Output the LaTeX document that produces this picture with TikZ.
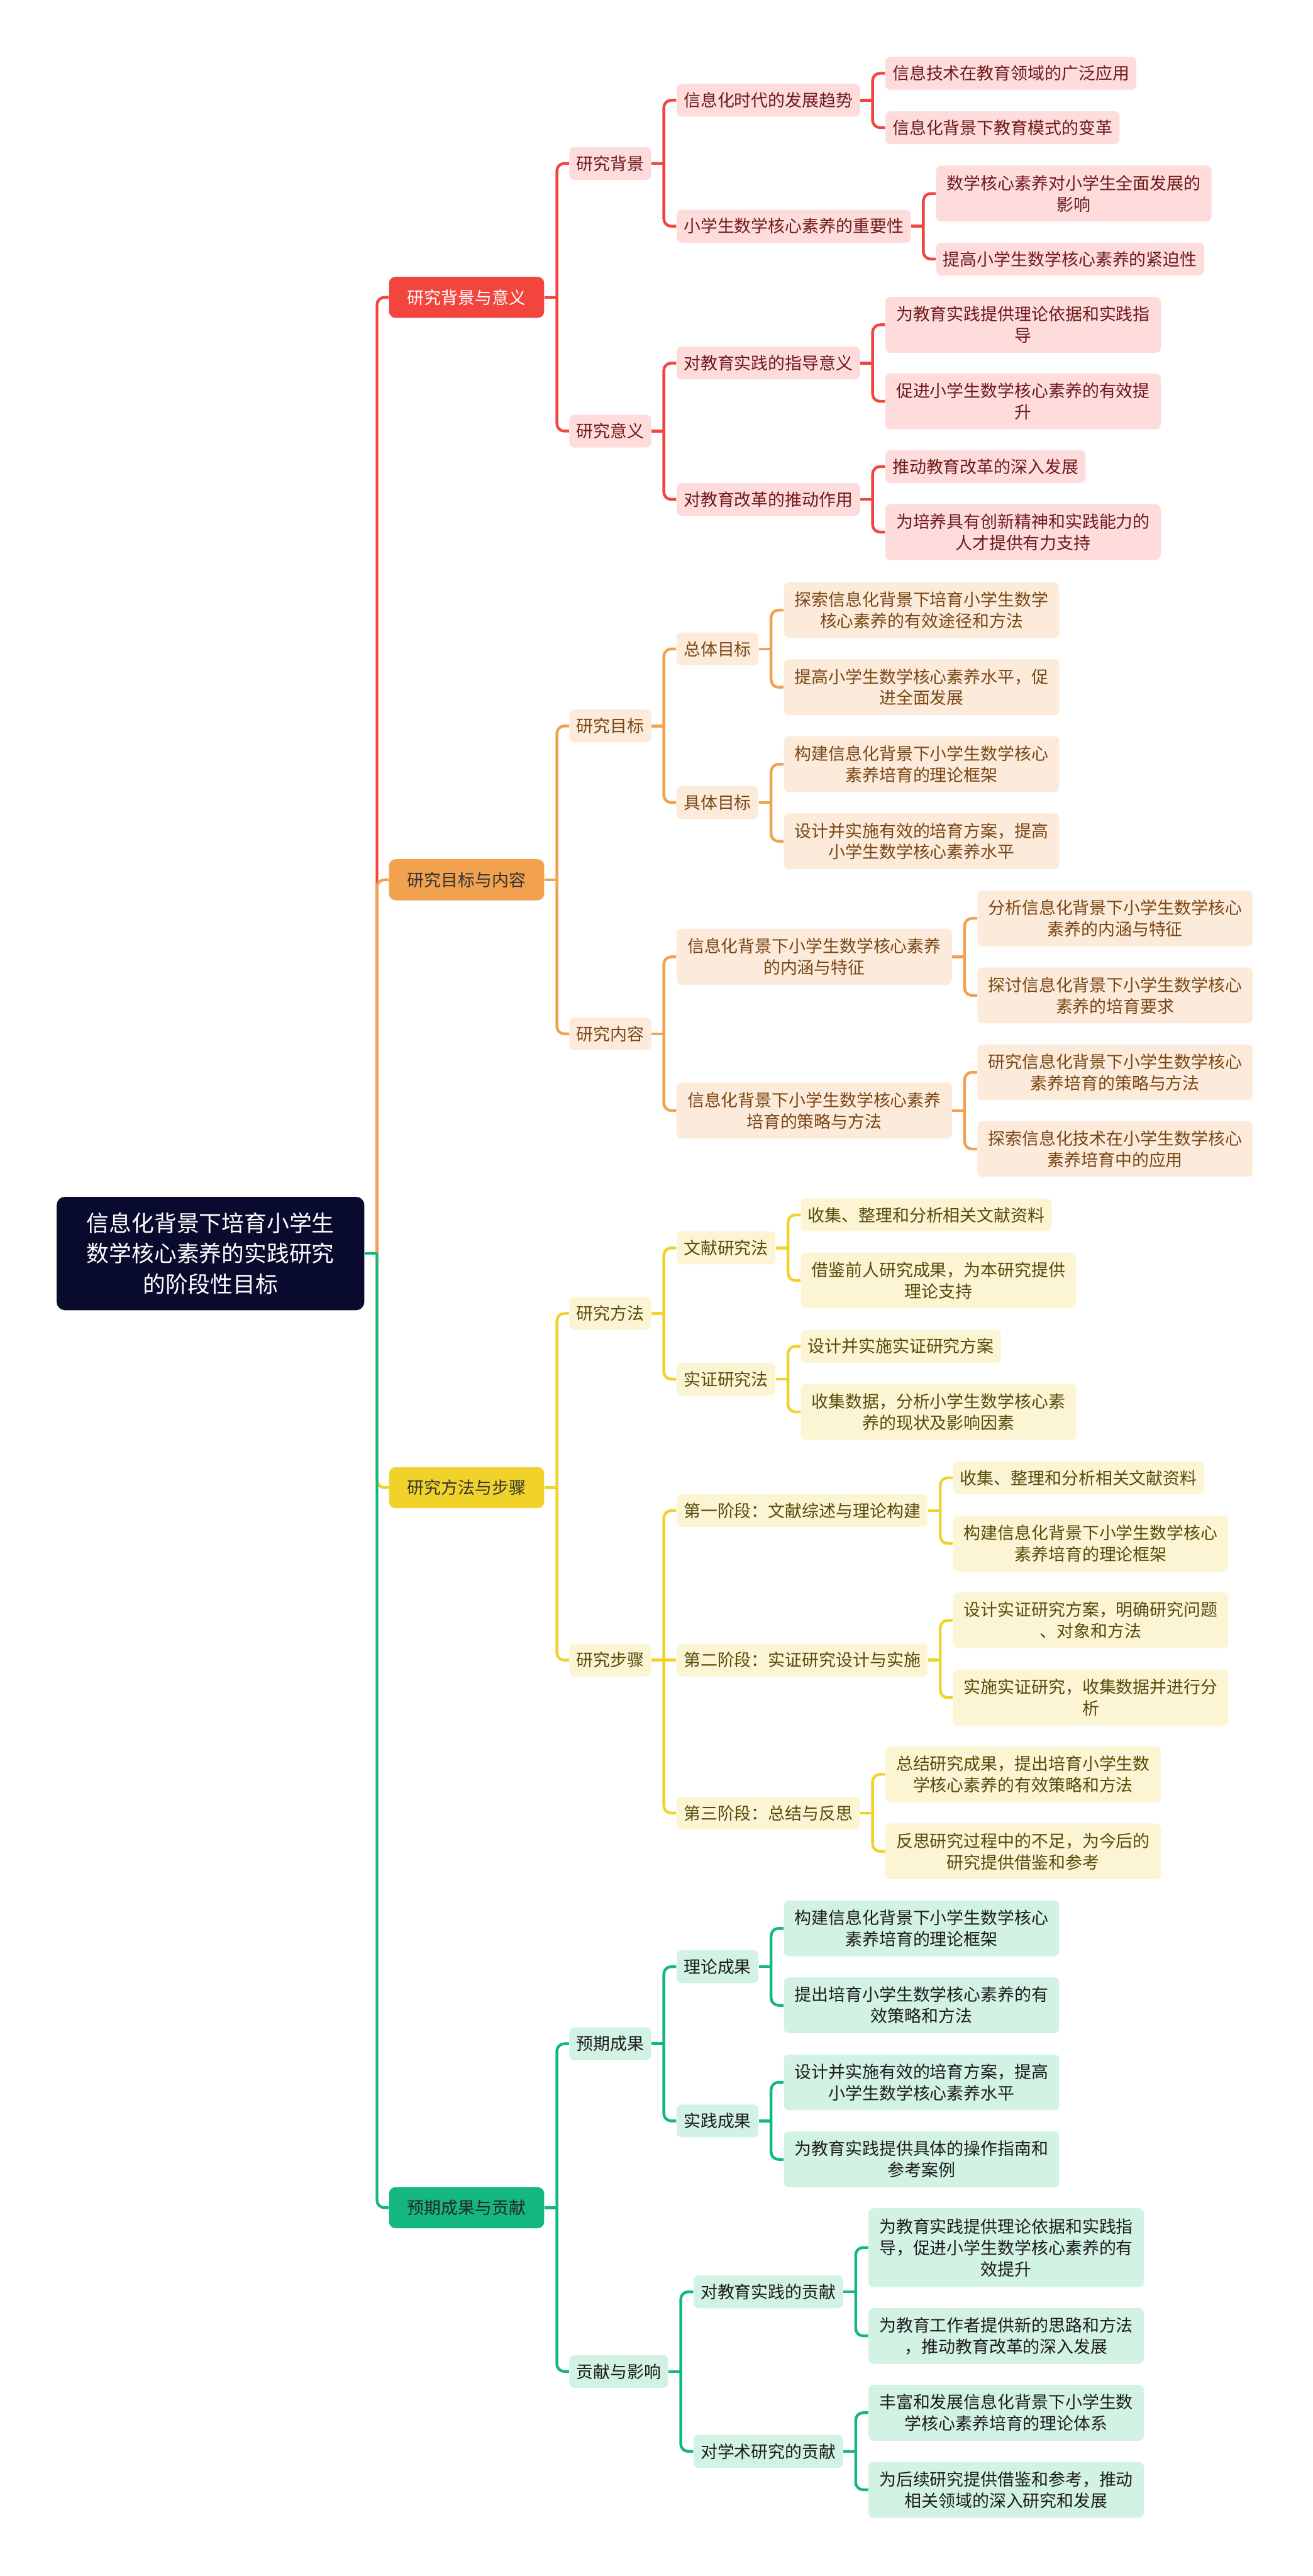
\documentclass[tikz,border=0pt]{standalone}
\usepackage{fontspec}
\setmainfont{Noto Sans CJK SC}
\usepackage{tikz}
\usetikzlibrary{calc,backgrounds}
\definecolor{rootc}{HTML}{090B2E}
\definecolor{redc}{HTML}{F2453D}
\definecolor{redlt}{HTML}{FDDCDB}
\definecolor{redtx}{HTML}{6E1A1A}
\definecolor{orgc}{HTML}{F2A24F}
\definecolor{orglt}{HTML}{FCEBDB}
\definecolor{orgtx}{HTML}{7A4614}
\definecolor{ylwc}{HTML}{F0D22B}
\definecolor{ylwlt}{HTML}{FCF5D4}
\definecolor{ylwtx}{HTML}{574A0A}
\definecolor{grnc}{HTML}{14B77F}
\definecolor{grnlt}{HTML}{D2F2E4}
\definecolor{grntx}{HTML}{1C1C1C}
\tikzset{
  lvsub/.style={rounded corners=3pt, inner xsep=4.3pt, inner ysep=0pt, minimum height=20pt,
    anchor=west, align=center, font=\fontsize{10.3}{13}\selectfont},
  wrap/.style={text width=159pt},
  dbl/.style={wrap, minimum height=34pt},
  tri/.style={wrap, minimum height=48pt},
  lvone/.style={lvsub, rounded corners=4pt, inner xsep=11.2pt, minimum height=25pt},
  rd/.style={lvsub, fill=redlt, text=redtx},
  og/.style={lvsub, fill=orglt, text=orgtx},
  yl/.style={lvsub, fill=ylwlt, text=ylwtx},
  gr/.style={lvsub, fill=grnlt, text=grntx},
  rdln/.style={draw=redc, line width=1.7pt},
  ogln/.style={draw=orgc, line width=1.7pt},
  ylln/.style={draw=ylwc, line width=1.7pt},
  grln/.style={draw=grnc, line width=1.7pt}
}
% parent -> child: short stub, then bar with rounded turn
\newcommand{\edgeto}[3]{%
  \draw[#1] (#2.east) -- ++(7.5,0);
  \draw[#1, rounded corners=4.5pt] ($(#2.east)+(7.5,0)$) |- (#3.west);}

\begin{document}
\begin{tikzpicture}[x=1pt, y=-1pt]
      \useasboundingbox (0,0) rectangle (799,1568);
      \node[fill=rootc, text=white, rounded corners=5pt, inner xsep=18.3pt, minimum height=69pt,
        align=center, anchor=west, font=\fontsize{13.7}{18.7}\selectfont] (r) at (34.3,763)
        {信息化背景下培育小学生\\数学核心素养的实践研究\\的阶段性目标};

      % first level
      \node[lvone, fill=redc, text=white] (a) at (236.6,181) {研究背景与意义};
      \node[lvone, fill=orgc, text=black!80] (b) at (236.6,535.5) {研究目标与内容};
      \node[lvone, fill=ylwc, text=black!80] (c) at (236.6,905.5) {研究方法与步骤};
      \node[lvone, fill=grnc, text=black!85] (d) at (236.6,1343.8) {预期成果与贡献};

      % red branch
      \node[rd] (a1) at (346.4,99.5) {研究背景};
      \node[rd] (a2) at (346.4,262.4) {研究意义};
      \node[rd] (a11) at (411.7,61) {信息化时代的发展趋势};
      \node[rd] (a12) at (411.7,137.7) {小学生数学核心素养的重要性};
      \node[rd] (a21) at (411.7,221) {对教育实践的指导意义};
      \node[rd] (a22) at (411.7,304) {对教育改革的推动作用};
      \node[rd] (a111) at (538.8,44.6) {信息技术在教育领域的广泛应用};
      \node[rd] (a112) at (538.8,77.7) {信息化背景下教育模式的变革};
      \node[rd, dbl] (a121) at (569.7,117.8) {数学核心素养对小学生全面发展的\\影响};
      \node[rd] (a122) at (569.7,157.7) {提高小学生数学核心素养的紧迫性};
      \node[rd, dbl] (a211) at (538.8,197.7) {为教育实践提供理论依据和实践指\\导};
      \node[rd, dbl] (a212) at (538.8,244.3) {促进小学生数学核心素养的有效提\\升};
      \node[rd] (a221) at (538.8,284) {推动教育改革的深入发展};
      \node[rd, dbl] (a222) at (538.8,323.9) {为培养具有创新精神和实践能力的\\人才提供有力支持};

      % orange branch
      \node[og] (b1) at (346.4,441.9) {研究目标};
      \node[og] (b2) at (346.4,629.3) {研究内容};
      \node[og] (b11) at (411.7,395) {总体目标};
      \node[og] (b12) at (411.7,488.5) {具体目标};
      \node[og, dbl] (b21) at (411.7,582.4) {信息化背景下小学生数学核心素养\\的内涵与特征};
      \node[og, dbl] (b22) at (411.7,676) {信息化背景下小学生数学核心素养\\培育的策略与方法};
      \node[og, dbl] (b111) at (477,371.4) {探索信息化背景下培育小学生数学\\核心素养的有效途径和方法};
      \node[og, dbl] (b112) at (477,418.3) {提高小学生数学核心素养水平，促\\进全面发展};
      \node[og, dbl] (b121) at (477,465.2) {构建信息化背景下小学生数学核心\\素养培育的理论框架};
      \node[og, dbl] (b122) at (477,512.1) {设计并实施有效的培育方案，提高\\小学生数学核心素养水平};
      \node[og, dbl] (b211) at (594.8,559) {分析信息化背景下小学生数学核心\\素养的内涵与特征};
      \node[og, dbl] (b212) at (594.8,605.9) {探讨信息化背景下小学生数学核心\\素养的培育要求};
      \node[og, dbl] (b221) at (594.8,652.7) {研究信息化背景下小学生数学核心\\素养培育的策略与方法};
      \node[og, dbl] (b222) at (594.8,699.4) {探索信息化技术在小学生数学核心\\素养培育中的应用};

      % yellow branch
      \node[yl] (c1) at (346.4,799.5) {研究方法};
      \node[yl] (c2) at (346.4,1010.5) {研究步骤};
      \node[yl] (c11) at (411.7,759.6) {文献研究法};
      \node[yl] (c12) at (411.7,839.5) {实证研究法};
      \node[yl] (c21) at (411.7,919.5) {第一阶段：文献综述与理论构建};
      \node[yl] (c22) at (411.7,1010.5) {第二阶段：实证研究设计与实施};
      \node[yl] (c23) at (411.7,1103.6) {第三阶段：总结与反思};
      \node[yl] (c111) at (487.3,739.5) {收集、整理和分析相关文献资料};
      \node[yl, dbl] (c112) at (487.3,779.4) {借鉴前人研究成果，为本研究提供\\理论支持};
      \node[yl] (c121) at (487.3,819.5) {设计并实施实证研究方案};
      \node[yl, dbl] (c122) at (487.3,859.4) {收集数据，分析小学生数学核心素\\养的现状及影响因素};
      \node[yl] (c211) at (580,899.5) {收集、整理和分析相关文献资料};
      \node[yl, dbl] (c212) at (580,939.5) {构建信息化背景下小学生数学核心\\素养培育的理论框架};
      \node[yl, dbl] (c221) at (580,986.3) {设计实证研究方案，明确研究问题\\、对象和方法};
      \node[yl, dbl] (c222) at (580,1033.3) {实施实证研究，收集数据并进行分\\析};
      \node[yl, dbl] (c231) at (538.8,1080) {总结研究成果，提出培育小学生数\\学核心素养的有效策略和方法};
      \node[yl, dbl] (c232) at (538.8,1126.9) {反思研究过程中的不足，为今后的\\研究提供借鉴和参考};

      % green branch
      \node[gr] (d1) at (346.4,1244) {预期成果};
      \node[gr] (d2) at (346.4,1443.5) {贡献与影响};
      \node[gr] (d11) at (411.7,1197.1) {理论成果};
      \node[gr] (d12) at (411.7,1291) {实践成果};
      \node[gr] (d21) at (422,1395) {对教育实践的贡献};
      \node[gr] (d22) at (422,1492.1) {对学术研究的贡献};
      \node[gr, dbl] (d111) at (477,1173.8) {构建信息化背景下小学生数学核心\\素养培育的理论框架};
      \node[gr, dbl] (d112) at (477,1220.6) {提出培育小学生数学核心素养的有\\效策略和方法};
      \node[gr, dbl] (d121) at (477,1267.5) {设计并实施有效的培育方案，提高\\小学生数学核心素养水平};
      \node[gr, dbl] (d122) at (477,1314.4) {为教育实践提供具体的操作指南和\\参考案例};
      \node[gr, tri] (d211) at (528.5,1368.1) {为教育实践提供理论依据和实践指\\导，促进小学生数学核心素养的有\\效提升};
      \node[gr, dbl] (d212) at (528.5,1421.8) {为教育工作者提供新的思路和方法\\，推动教育改革的深入发展};
      \node[gr, dbl] (d221) at (528.5,1468.6) {丰富和发展信息化背景下小学生数\\学核心素养培育的理论体系};
      \node[gr, dbl] (d222) at (528.5,1515.5) {为后续研究提供借鉴和参考，推动\\相关领域的深入研究和发展};

      \begin{scope}[on background layer]
      \edgeto{rdln}{r}{a}
      \edgeto{ogln}{r}{b}
      \edgeto{ylln}{r}{c}
      \edgeto{grln}{r}{d}

      \edgeto{rdln}{a}{a1}
      \edgeto{rdln}{a}{a2}
      \edgeto{rdln}{a1}{a11}
      \edgeto{rdln}{a1}{a12}
      \edgeto{rdln}{a2}{a21}
      \edgeto{rdln}{a2}{a22}
      \edgeto{rdln}{a11}{a111}
      \edgeto{rdln}{a11}{a112}
      \edgeto{rdln}{a12}{a121}
      \edgeto{rdln}{a12}{a122}
      \edgeto{rdln}{a21}{a211}
      \edgeto{rdln}{a21}{a212}
      \edgeto{rdln}{a22}{a221}
      \edgeto{rdln}{a22}{a222}

      \edgeto{ogln}{b}{b1}
      \edgeto{ogln}{b}{b2}
      \edgeto{ogln}{b1}{b11}
      \edgeto{ogln}{b1}{b12}
      \edgeto{ogln}{b2}{b21}
      \edgeto{ogln}{b2}{b22}
      \edgeto{ogln}{b11}{b111}
      \edgeto{ogln}{b11}{b112}
      \edgeto{ogln}{b12}{b121}
      \edgeto{ogln}{b12}{b122}
      \edgeto{ogln}{b21}{b211}
      \edgeto{ogln}{b21}{b212}
      \edgeto{ogln}{b22}{b221}
      \edgeto{ogln}{b22}{b222}

      \edgeto{ylln}{c}{c1}
      \edgeto{ylln}{c}{c2}
      \edgeto{ylln}{c1}{c11}
      \edgeto{ylln}{c1}{c12}
      \edgeto{ylln}{c2}{c21}
      \draw[ylln] (c2) -- (c22);
      \edgeto{ylln}{c2}{c23}
      \edgeto{ylln}{c11}{c111}
      \edgeto{ylln}{c11}{c112}
      \edgeto{ylln}{c12}{c121}
      \edgeto{ylln}{c12}{c122}
      \edgeto{ylln}{c21}{c211}
      \edgeto{ylln}{c21}{c212}
      \edgeto{ylln}{c22}{c221}
      \edgeto{ylln}{c22}{c222}
      \edgeto{ylln}{c23}{c231}
      \edgeto{ylln}{c23}{c232}

      \edgeto{grln}{d}{d1}
      \edgeto{grln}{d}{d2}
      \edgeto{grln}{d1}{d11}
      \edgeto{grln}{d1}{d12}
      \edgeto{grln}{d2}{d21}
      \edgeto{grln}{d2}{d22}
      \edgeto{grln}{d11}{d111}
      \edgeto{grln}{d11}{d112}
      \edgeto{grln}{d12}{d121}
      \edgeto{grln}{d12}{d122}
      \edgeto{grln}{d21}{d211}
      \edgeto{grln}{d21}{d212}
      \edgeto{grln}{d22}{d221}
      \edgeto{grln}{d22}{d222}
      \end{scope}
    \end{tikzpicture}
\end{document}
